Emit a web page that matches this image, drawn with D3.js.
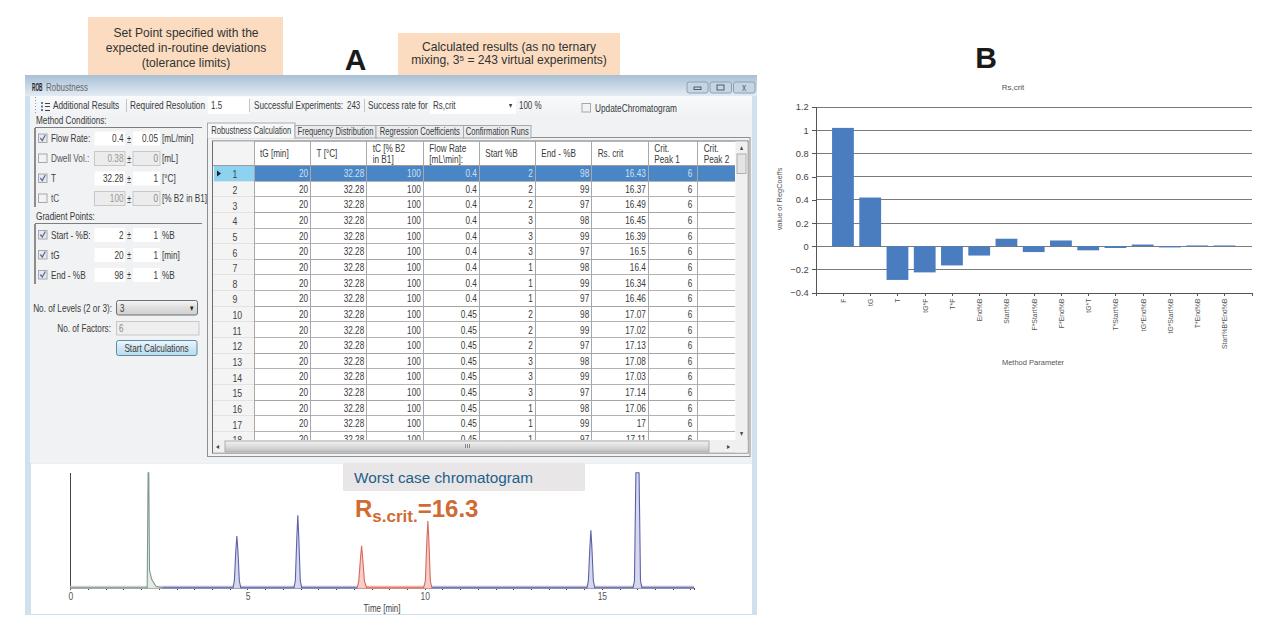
<!DOCTYPE html>
<html lang="en">
<head>
<meta charset="utf-8" />
<title>Robustness</title>
<script src="https://cdnjs.cloudflare.com/ajax/libs/d3/7.8.5/d3.min.js"></script>
<style>
  html, body { margin: 0; padding: 0; background: #fff; }
  svg { display: block; }
  text { font-family: "Liberation Sans", sans-serif; fill: #3a3a3a; }
  .axis path, .axis line { shape-rendering: crispEdges; }
</style>
</head>
<body>
<script>
// regression coefficients (panel B)
var coefNames = ["F", "tG", "T", "tG*F", "T*F", "End%B", "Start%B", "F*Start%B", "F*End%B", "tG*T", "T*Start%B", "tG*End%B", "tG*Start%B", "T*End%B", "Start%B*End%B"];
var coefValues = [1.02, 0.42, -0.29, -0.225, -0.165, -0.08, 0.065, -0.05, 0.05, -0.035, -0.015, 0.015, -0.01, 0.007, 0.007];
var coefTicks = [-0.4, -0.2, 0, 0.2, 0.4, 0.6, 0.8, 1, 1.2];

// robustness table (panel A)
var tableHeaders = [["tG [min]"], ["T [°C]"], ["tC [% B2", "in B1]"], ["Flow Rate", "[mL\\min]:"], ["Start %B"], ["End - %B"], ["Rs. crit"], ["Crit.", "Peak 1"], ["Crit.", "Peak 2"]];
var rowNumbers = [1, 2, 3, 4, 5, 6, 7, 8, 9, 10, 11, 12, 13, 14, 15, 16, 17, 18];
var colTG = [20, 20, 20, 20, 20, 20, 20, 20, 20, 20, 20, 20, 20, 20, 20, 20, 20, 20];
var colT = [32.28, 32.28, 32.28, 32.28, 32.28, 32.28, 32.28, 32.28, 32.28, 32.28, 32.28, 32.28, 32.28, 32.28, 32.28, 32.28, 32.28, 32.28];
var colTC = [100, 100, 100, 100, 100, 100, 100, 100, 100, 100, 100, 100, 100, 100, 100, 100, 100, 100];
var colFlow = [0.4, 0.4, 0.4, 0.4, 0.4, 0.4, 0.4, 0.4, 0.4, 0.45, 0.45, 0.45, 0.45, 0.45, 0.45, 0.45, 0.45, 0.45];
var colStart = [2, 2, 2, 3, 3, 3, 1, 1, 1, 2, 2, 2, 3, 3, 3, 1, 1, 1];
var colEnd = [98, 99, 97, 98, 99, 97, 98, 99, 97, 98, 99, 97, 98, 99, 97, 98, 99, 97];
var colRs = [16.43, 16.37, 16.49, 16.45, 16.39, 16.5, 16.4, 16.34, 16.46, 17.07, 17.02, 17.13, 17.08, 17.03, 17.14, 17.06, 17, 17.11];
var colCrit1 = [6, 6, 6, 6, 6, 6, 6, 6, 6, 6, 6, 6, 6, 6, 6, 6, 6, 6];

// settings panel
var methodLabels = ["Flow Rate:", "Dwell Vol.:", "T", "tC"];
var methodValues = ["0.4", "0.38", "32.28", "100"];
var methodTol = ["0.05", "0", "1", "0"];
var methodUnits = ["[mL/min]", "[mL]", "[°C]", "[% B2 in B1]"];
var methodChecked = [true, false, true, false];
var gradLabels = ["Start - %B:", "tG", " End - %B"];
var gradValues = ["2", "20", "98"];
var gradTol = ["1", "1", "1"];
var gradUnits = ["%B", "[min]", "%B"];
var tabNames = ["Robustness Calculation", "Frequency Distribution", "Regression Coefficients", "Confirmation Runs"];

// chromatogram, [time min, signal %]
var traceDead = [[0, 0], [2.17, 0], [2.195, 100], [2.215, 100], [2.235, 15], [2.3, 7], [2.42, 1], [2.6, 0]];
var traceBlue1 = [[2.6, 0], [4.59, 0], [4.63, 6], [4.67, 32], [4.7, 45], [4.73, 32], [4.77, 6], [4.81, 0], [6.31, 0], [6.35, 6], [6.39, 42], [6.42, 63], [6.45, 42], [6.49, 6], [6.53, 0], [8.1, 0]];
var traceRed = [[8.1, 0], [8.14, 6], [8.19, 26], [8.22, 36.5], [8.25, 26], [8.3, 6], [8.36, 0], [9.97, 0], [10.02, 6], [10.06, 40], [10.09, 58], [10.12, 40], [10.16, 6], [10.2, 0]];
var traceBlue2 = [[10.2, 0], [14.58, 0], [14.62, 6], [14.66, 34], [14.69, 50], [14.72, 34], [14.76, 6], [14.8, 0], [15.88, 0], [15.92, 6], [15.96, 100], [16.05, 100], [16.09, 6], [16.13, 0], [17.6, 0]];
var timeMajor = [0, 5, 10, 15];

var svg = d3.select("body").append("svg").attr("width", 1280).attr("height", 638);
var defs = svg.append("defs");

// window text in the reference is much narrower than Liberation Sans
var squeeze = 1;

function gradient(id, stops) {
  var g = defs.append("linearGradient").attr("id", id).attr("x1", 0).attr("x2", 0).attr("y1", 0).attr("y2", 1);
  stops.forEach(function (s, i) {
    g.append("stop").attr("offset", i / (stops.length - 1)).attr("stop-color", s);
  });
}
gradient("titleGrad", ["#a9bfd4", "#c5d6e5", "#e3ebf3"]);
gradient("toolGrad", ["#f8f9fb", "#f0f2f5"]);
gradient("barGrad", ["#f2f2f2", "#dcdcdc", "#bdbdbd"]);
gradient("btnGrad", ["#eef7fc", "#cfe6f3", "#bcdcee"]);
gradient("comboGrad", ["#f6f6f6", "#dedede", "#cfcfcf"]);

function box(g, x, y, w, h, fill, stroke) {
  return g.append("rect").attr("x", x).attr("y", y).attr("width", w).attr("height", h)
    .attr("fill", fill).attr("stroke", stroke || "none");
}
function line(g, x1, y1, x2, y2, color, sw) {
  return g.append("line").attr("x1", x1).attr("y1", y1).attr("x2", x2).attr("y2", y2)
    .attr("stroke", color).attr("stroke-width", sw || 1).attr("shape-rendering", "crispEdges");
}
function label(g, x, y, str, size, anchor, color) {
  return g.append("text").attr("transform", "translate(" + x + "," + y + ") scale(" + squeeze + ",1)")
    .attr("dy", "0.35em").attr("font-size", size || 10.5)
    .attr("text-anchor", anchor || "start").style("fill", color || "#3a3a3a").text(str);
}
function checkbox(g, x, y, on) {
  box(g, x, y - 4.5, 8.5, 8.5, on ? "#e6e9f2" : "#f2f2f2", "#a8a8a8");
  if (on) g.append("path").attr("d", "M" + (x + 1.8) + " " + (y - 0.5) + "l2 2.6l3 -5.6")
    .attr("fill", "none").attr("stroke", "#5a6f99").attr("stroke-width", 1.3);
}

// ---- annotation boxes above window ----
var notes = svg.append("g");
box(notes, 88, 17, 195, 58, "#fbdcc0");
box(notes, 398, 33, 222, 42, "#fbdcc0");
["Set Point specified with the", "expected in-routine deviations", "(tolerance limits)"].forEach(function (s, i) {
  label(notes, 186, 33 + i * 14.7, s, 12.1, "middle", "#333");
});
label(notes, 509, 46.5, "Calculated results (as no ternary", 12.1, "middle", "#333");
var mix = label(notes, 509, 60, "", 12.1, "middle", "#333");
mix.append("tspan").text("mixing, 3");
mix.append("tspan").attr("font-size", 8).attr("dy", -3).text("5");
mix.append("tspan").attr("dy", 3).text(" = 243 virtual experiments)");
svg.append("text").attr("x", 355.5).attr("y", 70).attr("text-anchor", "middle")
  .attr("font-size", 30).attr("font-weight", "bold").style("fill", "#1a1a1a").text("A");
svg.append("text").attr("x", 986).attr("y", 68).attr("text-anchor", "middle")
  .attr("font-size", 30).attr("font-weight", "bold").style("fill", "#1a1a1a").text("B");

squeeze = 0.76;

// ---- window frame ----
var win = svg.append("g");
box(win, 25, 75, 732, 540, "#cfe0ee");
box(win, 25, 75, 732, 21, "url(#titleGrad)");
box(win, 30, 96, 722, 367, "#f1f2f4");
box(win, 30, 96, 722, 20, "url(#toolGrad)");
label(win, 32, 87, "ROB", 10.5, "start", "#1c1c1c").attr("font-weight", "bold")
  .attr("transform", "translate(32,87) scale(0.45,1)");
label(win, 46, 87, "Robustness", 10.5, "start", "#666");
[[687, 21], [710, 21.5], [733.5, 21.5]].forEach(function (b) {
  box(win, b[0], 82, b[1], 11, "#c6d5e3", "#8ca0b4").attr("rx", 2);
});
box(win, 694, 87, 7, 2.5, "none", "#4f5f70");
box(win, 717, 85, 7, 5, "none", "#4f5f70");
label(win, 744, 87.5, "x", 11, "middle", "#4f5f70");

// toolbar
[97, 100, 103, 106, 109, 112].forEach(function (y) { box(win, 35, y, 1, 1, "#999"); });
[102, 105.5, 109].forEach(function (y) {
  box(win, 41, y, 2, 2, "#5c7a9c");
  line(win, 44.5, y + 1, 50, y + 1, "#444");
});
label(win, 53, 105.5, "Additional Results", 10.9);
line(win, 126, 99, 126, 112, "#c4c4c4");
label(win, 130, 105.5, "Required Resolution", 10.9);
box(win, 208, 97, 41, 17, "#fff");
label(win, 211, 105.5, "1.5", 10.5);
line(win, 249, 99, 249, 112, "#c4c4c4");
label(win, 254, 105.5, "Successful Experiments:", 10.7);
label(win, 347, 105.5, "243", 10.5);
line(win, 364, 99, 364, 112, "#c4c4c4");
label(win, 368, 105.5, "Success rate for", 10.9);
box(win, 430, 97, 86, 17, "#fff");
label(win, 433, 105.5, "Rs,crit", 10.5);
label(win, 511, 105.5, "▾", 8, "middle", "#333");
label(win, 519, 105.5, "100 %", 10.5);
checkbox(win, 582, 108, false);
label(win, 595, 108, "UpdateChromatogram", 10.9);

// ---- settings panel ----
var panel = svg.append("g");
label(panel, 36, 120, "Method Conditions:", 10.8);
line(panel, 35, 127.5, 202, 127.5, "#7d7d7d");
line(panel, 35, 127.5, 35, 207, "#8d8d8d", 1.5);
label(panel, 36, 216, "Gradient Points:", 10.8);
line(panel, 35, 223.5, 202, 223.5, "#7d7d7d");
line(panel, 35, 223.5, 35, 284, "#8d8d8d", 1.5);

function paramRow(y, name, val, tol, unit, on, enabled) {
  checkbox(panel, 38.5, y, on);
  label(panel, 51, y, name, 10.8, "start", enabled ? "#3a3a3a" : "#555");
  box(panel, 94.5, y - 7, 30.5, 14, enabled ? "#fff" : "#ececec", enabled ? "none" : "#c8c8c8");
  box(panel, 133, y - 7, 27, 14, enabled ? "#fff" : "#ececec", enabled ? "none" : "#c8c8c8");
  label(panel, 123.5, y, val, 10.8, "end", enabled ? "#3a3a3a" : "#999");
  label(panel, 129, y + 0.5, "±", 10, "middle");
  label(panel, 158, y, tol, 10.8, "end", enabled ? "#3a3a3a" : "#888");
  label(panel, 162, y, unit, 10.8);
}
var methodY = [138.5, 158.5, 178.5, 198.5];
methodLabels.forEach(function (n, i) {
  paramRow(methodY[i], n, methodValues[i], methodTol[i], methodUnits[i], methodChecked[i], methodChecked[i]);
});
var gradY = [235, 255, 275];
gradLabels.forEach(function (n, i) {
  paramRow(gradY[i], n, gradValues[i], gradTol[i], gradUnits[i], true, true);
});
label(panel, 112, 308, "No. of Levels (2 or 3):", 10.8, "end");
box(panel, 116.5, 300.5, 81, 14.5, "url(#comboGrad)", "#6f6f6f").attr("rx", 2);
label(panel, 120, 308, "3", 10.5);
label(panel, 191.5, 308, "▾", 9, "middle", "#222");
label(panel, 111, 328, "No. of Factors:", 10.8, "end");
box(panel, 116.5, 321.5, 82.5, 13.5, "#eeeeee", "#c8c8c8");
label(panel, 119, 328, "6", 10.5, "start", "#888");
box(panel, 116.5, 340.5, 80.5, 15, "url(#btnGrad)", "#5c8ba8").attr("rx", 2);
label(panel, 156.5, 348, "Start Calculations", 10.8, "middle");

// ---- tabs ----
var tabs = svg.append("g");
box(tabs, 207.5, 137.5, 542.5, 319, "#f1f2f4", "#8f8f8f");
var tabEdges = [207.5, 295, 376, 463.5, 531];
tabNames.forEach(function (n, i) {
  var top = i === 0 ? 123 : 125.5;
  box(tabs, tabEdges[i], top, tabEdges[i + 1] - tabEdges[i], 138 - top, i === 0 ? "#f7f8f9" : "#e9ebee", "#a9a9a9");
  label(tabs, (tabEdges[i] + tabEdges[i + 1]) / 2, i === 0 ? 130 : 131.5, n, 10, "middle");
});
box(tabs, 208.2, 137, 86.2, 1.5, "#f7f8f9");

// ---- table ----
var table = svg.append("g");
box(table, 212.5, 141, 535.5, 312, "#fff", "#6e6e6e");
var colEdges = [254, 310.5, 366.7, 423.3, 479.3, 535.3, 591.7, 648.3, 697.7, 735];
var columns = [colTG, colT, colTC, colFlow, colStart, colEnd, colRs, colCrit1];
var rowH = 15.65, rowTop = 165.4;
var yRow = d3.scaleLinear().domain([0, 1]).range([rowTop, rowTop + rowH]);

defs.append("clipPath").attr("id", "rowClip").append("rect")
  .attr("x", 213).attr("y", 141).attr("width", 522).attr("height", 299);
var grid = table.append("g").attr("clip-path", "url(#rowClip)");

box(grid, 213, 141.5, 41, 300, "#f4f4f4");
box(grid, 254, yRow(0), 481, rowH, "#4a86c5");
box(grid, 214, yRow(0), 40, rowH, "#8dd2f0");
grid.append("path").attr("d", "M217 170.5l4 3l-4 3z").attr("fill", "#222");

rowNumbers.forEach(function (n, i) {
  line(grid, 213, yRow(i + 1), 254, yRow(i + 1), "#e2e2e2");
  line(grid, 254, yRow(i + 1), 735, yRow(i + 1), i % 3 === 2 ? "#a4a4a4" : "#b2b2b2");
  label(grid, 232.5, yRow(i + 0.5) + 1, n, 11.5, "start", "#444");
  columns.forEach(function (col, c) {
    label(grid, colEdges[c + 1] - 2.5 - (c === 7 ? 3 : 0), yRow(i + 0.5), col[i], 10.8, "end", i === 0 ? "#cfe0f1" : "#3a3a3a");
  });
});
line(grid, 213, rowTop, 735, rowTop, "#9c9c9c");
colEdges.forEach(function (x) { line(grid, x, 141, x, 440, "#a8a8a8"); });

tableHeaders.forEach(function (h, i) {
  var x = colEdges[i] + 6;
  h.forEach(function (s, j) {
    label(table, x, 153.5 + (j - (h.length - 1) / 2) * 10.5, s, 10.8);
  });
});

// scrollbars
box(table, 735.5, 141.5, 12, 311, "#f0f0f0");
box(table, 737, 154, 9, 19.5, "#e4e4e4", "#b0b0b0");
label(table, 741.5, 147.5, "▴", 8, "middle", "#444");
label(table, 741.5, 433, "▾", 8, "middle", "#444");
box(table, 213, 440, 534.5, 12.5, "#f0f0f0");
box(table, 225, 441, 484, 11, "url(#barGrad)", "#aeaeae");
label(table, 218, 446, "◂", 8, "middle", "#444");
label(table, 729, 446, "▸", 8, "middle", "#444");
[465, 467, 469].forEach(function (x) { line(table, x, 443.5, x, 448, "#888"); });

// ---- chromatogram ----
var chrom = svg.append("g");
box(chrom, 31, 463.5, 721, 150.5, "#fff");
var xTime = d3.scaleLinear().domain([0, 17.6]).range([70.3, 694]);
var ySignal = d3.scaleLinear().domain([0, 100]).range([587.7, 472.7]);
var trace = d3.line().x(function (d) { return xTime(d[0]); }).y(function (d) { return ySignal(d[1]); });

chrom.append("g").attr("class", "axis").attr("transform", "translate(0," + ySignal(0) + ")")
  .call(d3.axisBottom(xTime)
    .tickValues(d3.range(0, 17.75, 0.5))
    .tickSize(2.5)
    .tickFormat(function (d) { return timeMajor.indexOf(d) >= 0 ? d : ""; }))
  .call(function (g) {
    g.select(".domain").attr("stroke", "#555");
    g.selectAll("line").attr("stroke", "#444");
    g.selectAll("text").attr("font-size", 10).attr("dy", "0.7em").attr("transform", "scale(0.85,1)")
      .attr("x", 0).style("fill", "#555");
  });
line(chrom, 70.3, ySignal(100), 70.3, ySignal(0), "#444");

[[0, 2.6, "#cfcfcf"], [2.6, 8.1, "#b9bcd6"], [8.1, 10.2, "#eeb4ab"], [10.2, 17.6, "#b9bcd6"]].forEach(function (b) {
  chrom.append("line").attr("x1", xTime(b[0])).attr("x2", xTime(b[1]))
    .attr("y1", ySignal(0) - 0.5).attr("y2", ySignal(0) - 0.5)
    .attr("stroke", b[2]).attr("stroke-width", 3);
});

[[traceDead, "#7f9a8a", "#e4ebe7"], [traceBlue1, "#5d62a8", "#d6d8ee"], [traceRed, "#d9695f", "#f6cdc7"], [traceBlue2, "#5d62a8", "#d6d8ee"]].forEach(function (s) {
  chrom.append("path").datum(s[0]).attr("d", trace).attr("fill", s[2]).attr("stroke", s[1]).attr("stroke-width", 1.1);
});
label(chrom, 382, 608.5, "Time [min]", 10.5, "middle", "#444");

// worst case annotation
box(chrom, 343, 463, 242, 28, "#e8e6e7");
svg.append("text").attr("x", 354).attr("y", 483).attr("font-size", 15.3)
  .style("fill", "#1f5f8b").text("Worst case chromatogram");
var rs = svg.append("text").attr("x", 355).attr("y", 517).attr("font-weight", "bold").style("fill", "#cf6b33");
rs.append("tspan").attr("font-size", 24).text("R");
rs.append("tspan").attr("font-size", 17).attr("dy", 5).text("s.crit.");
rs.append("tspan").attr("font-size", 24).attr("dy", -5).text("=16.3");

squeeze = 1;

// ---- bar chart (panel B) ----
var chart = svg.append("g");
var xCoef = d3.scaleLinear().domain([0, 16]).range([815.7, 1251.7]);
var yCoef = d3.scaleLinear().domain([-0.4, 1.2]).range([292.7, 107]);
var barW = (xCoef(1) - xCoef(0)) * 0.8;

chart.append("g").selectAll("line").data(coefTicks.slice(1)).enter().append("line")
  .attr("x1", xCoef(0)).attr("x2", xCoef(16))
  .attr("y1", function (d) { return yCoef(d); }).attr("y2", function (d) { return yCoef(d); })
  .attr("stroke", "#7a7a7a").attr("shape-rendering", "crispEdges");

chart.append("g").selectAll("rect").data(coefValues).enter().append("rect")
  .attr("x", function (d, i) { return xCoef(i + 1) - barW / 2; })
  .attr("y", function (d) { return yCoef(Math.max(d, 0)); })
  .attr("width", barW)
  .attr("height", function (d) { return Math.abs(yCoef(d) - yCoef(0)); })
  .attr("fill", "#4a7dc0");

chart.append("g").attr("class", "axis").attr("transform", "translate(" + xCoef(0) + ",0)")
  .call(d3.axisLeft(yCoef).tickValues(coefTicks).tickSize(4).tickFormat(d3.format("~g")))
  .call(function (g) {
    g.selectAll("line, path").attr("stroke", "#555");
    g.selectAll("text").attr("font-size", 9.3).style("fill", "#444");
  });

chart.append("g").attr("class", "axis").attr("transform", "translate(0," + yCoef(-0.4) + ")")
  .call(d3.axisBottom(xCoef).tickValues(d3.range(0, 17)).tickSize(3)
    .tickFormat(function (d) { return coefNames[d - 1] || ""; }))
  .call(function (g) {
    g.selectAll("line, path").attr("stroke", "#555");
    g.selectAll("text").attr("font-size", 6.8)
      .attr("transform", "rotate(-90)").attr("x", -6).attr("y", 0).attr("dy", "0.35em")
      .attr("text-anchor", "end").style("fill", "#555");
  });

label(chart, 1013, 87, "Rs,crit", 8, "middle", "#555");
label(chart, 1033, 362, "Method Parameter", 7.5, "middle", "#555");
chart.append("text").attr("transform", "translate(779,199) rotate(-90)").attr("dy", "0.35em")
  .attr("font-size", 7.4).attr("text-anchor", "middle").style("fill", "#555").text("value of RegCoeffs");
</script>
</body>
</html>
